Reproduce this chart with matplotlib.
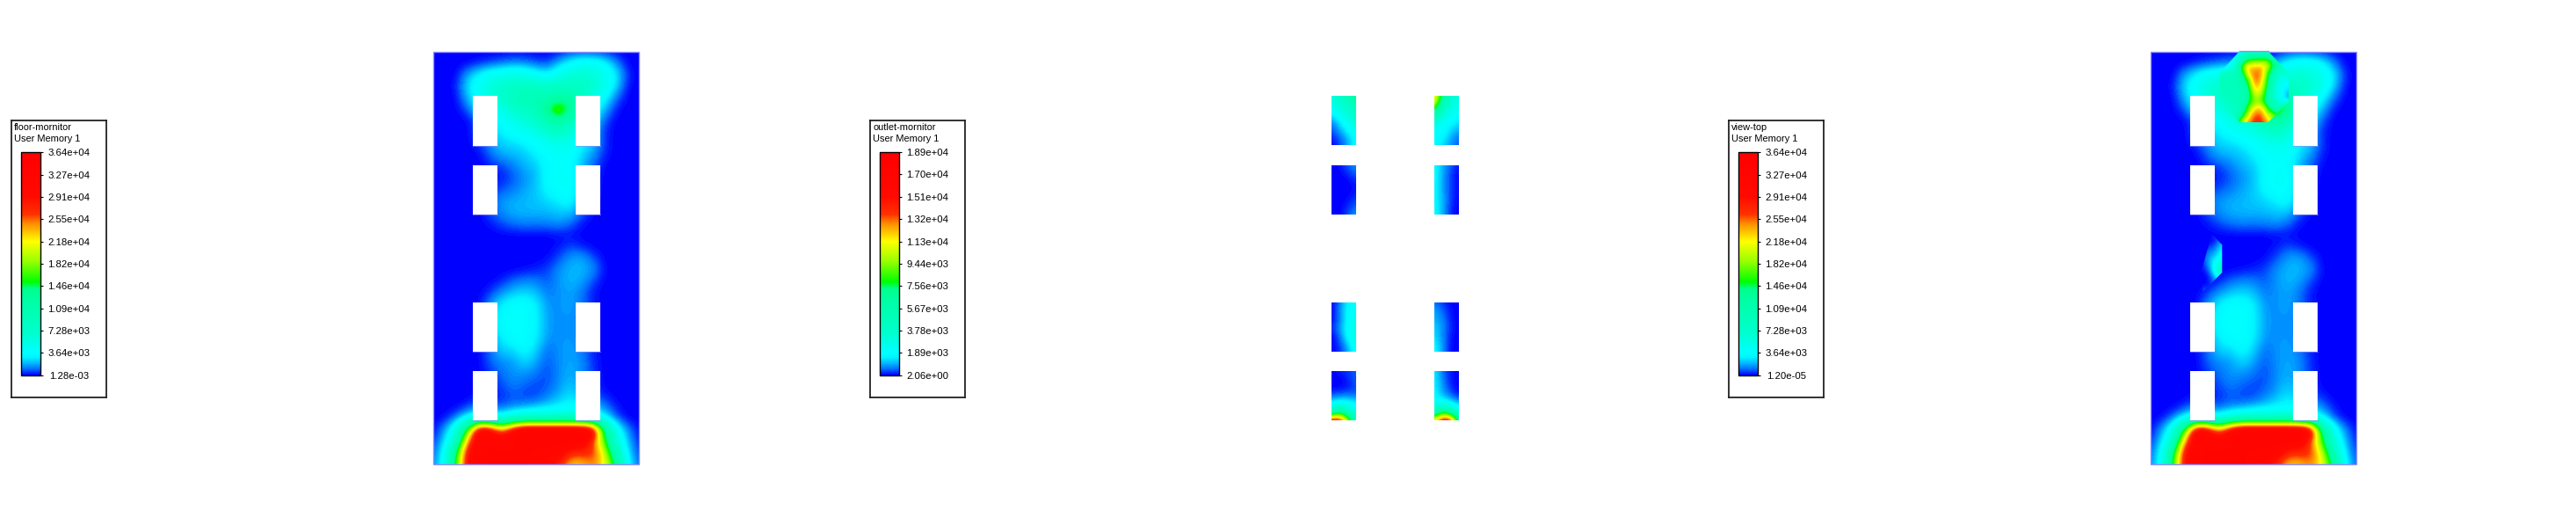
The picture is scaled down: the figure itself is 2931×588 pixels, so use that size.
import matplotlib
matplotlib.use('Agg')
import matplotlib.pyplot as plt
import numpy as np
from matplotlib.colors import LinearSegmentedColormap, Normalize
from matplotlib.cm import ScalarMappable
from matplotlib.patches import Rectangle, Polygon

plt.rcParams['font.family'] = ['Liberation Sans', 'DejaVu Sans']

# legend texts and ticks
floor_ticks = [1.28e-03, 3.64e+03, 7.28e+03, 1.09e+04, 1.46e+04, 1.82e+04, 2.18e+04, 2.55e+04, 2.91e+04, 3.27e+04, 3.64e+04]
outlet_ticks = [2.06e+00, 1.89e+03, 3.78e+03, 5.67e+03, 7.56e+03, 9.44e+03, 1.13e+04, 1.32e+04, 1.51e+04, 1.70e+04, 1.89e+04]
top_ticks = [1.20e-05, 3.64e+03, 7.28e+03, 1.09e+04, 1.46e+04, 1.82e+04, 2.18e+04, 2.55e+04, 2.91e+04, 3.27e+04, 3.64e+04]

# floor plane, values in 1e3
floor_field = [
    [0,0,0,0,0,0,0,0,0,0,0,0,.4,.5,.4,.2,0,0,0],
    [0,0,0,0,.3,.6,1,1.4,1.3,.8,.6,2,3.5,4.5,4.5,3.5,1.5,0,0],
    [0,0,0,1.8,3.2,4.5,5,5.5,5,4,3,5,6,6.5,6,5,3,.4,0],
    [0,0,.2,2.6,4.5,6,7,7.5,8,8,7.5,8,8,8,7,5,2.5,.1,0],
    [0,0,0,2,4,6,7,9,10,10,10,12,12,8,5,3.5,1,0,0],
    [0,0,0,.8,3,4,5,7,8,9,15,19,14,7,4,2,.2,0,0],
    [0,0,0,0,1,3,4,5,6,7,10,13,9,6,3,.8,0,0,0],
    [0,0,0,0,1,2,3,3.8,4.5,5,6.5,7.5,6,4,2,.4,0,0,0],
    [0,0,0,0,.5,1.5,2.5,2.5,3,3.7,4.5,5,5,3,2.5,.4,0,0,0],
    [0,0,0,0,0,1,1.8,2,2.2,3,3.7,4,3.8,2.5,1.5,.3,0,0,0],
    [0,0,0,0,0,.3,.6,1.2,2,2.2,3.5,3.8,3.8,2,1,0,0,0,0],
    [0,0,0,0,0,.1,.3,.8,1.5,2,3.6,4,4,2,.5,0,0,0,0],
    [0,0,0,0,0,.3,.8,1.2,1.8,2.2,3.3,3.9,3.9,2,.5,0,0,0,0],
    [0,0,0,0,0,1,1.6,1.9,2,2.2,2.5,3,3.5,1.8,.3,0,0,0,0],
    [0,0,0,0,0,.8,1.5,1.9,2,2,2,2.2,2.3,.9,.1,0,0,0,0],
    [0,0,0,0,0,.2,.7,1.1,1.3,1.2,1.3,1.5,1,.2,0,0,0,0,0],
    [0,0,0,0,0,0,0,0,0,0,0,.1,.1,0,0,0,0,0,0],
    [0,0,0,0,0,0,0,0,0,0,0,.2,.7,.3,0,0,0,0,0],
    [0,0,0,0,0,0,0,0,0,0,.1,.7,1.7,1.9,.8,0,0,0,0],
    [0,0,0,0,0,0,0,0,.1,.3,.6,1.5,2,2,1.6,.1,0,0,0],
    [0,0,0,0,0,0,.3,1,1.4,1.3,.8,1.6,2,1.8,.7,0,0,0,0],
    [0,0,0,0,0,.5,1.5,2.2,2.5,2.1,1.2,1.5,1.8,1.2,.2,0,0,0,0],
    [0,0,0,0,0,1.5,3,3.7,3.8,3,1.5,1.5,1.8,1.2,.3,0,0,0,0],
    [0,0,0,0,0,2,3.6,3.8,3.8,3.2,1.6,1.5,1.6,1.2,.3,0,0,0,0],
    [0,0,0,0,0,2,3.6,3.8,3.8,3.2,1.6,1.5,1.6,1.2,.3,0,0,0,0],
    [0,0,0,0,0,1.5,3,3.6,3.8,3,1.5,1.5,1.6,1.2,.3,0,0,0,0],
    [0,0,0,0,0,1,2.5,2.5,3.5,2.4,1,1.5,1.8,1.3,.3,0,0,0,0],
    [0,0,0,0,0,1,1.5,1.6,2.6,1.8,.8,1.5,1.8,1.5,.4,0,0,0,0],
    [0,0,0,0,0,.5,1.1,1.6,1.6,1.2,.6,1.5,1.9,1.5,.5,0,0,0,0],
    [0,0,0,0,0,.3,.8,1.3,1,.7,.8,1.5,2.2,1.6,.6,0,0,0,0],
    [0,0,0,0,.2,.3,.4,.9,.6,.6,1.2,1.9,2.8,2,.8,.3,0,0,0],
    [0,0,0,.5,1.2,.8,.9,1.2,1.5,2,2.5,3,3.5,3,2.2,1.4,.2,0,0],
    [0,.1,1.2,3.2,5,4.5,3.8,6,7,7,7,7,7,6,5,3.2,.9,0,0],
    [0,1.6,5,16,34,32,24,32,36,36,36,36,36,36,34,13,4.5,1.4,.1],
    [.4,2.4,7,25,32,32,32,32,32,32,32,32,32,32,26,16,6,2,.3],
    [1,3.2,14,30,32,32,32,32,32,32,32,32,27,27,27,21,9,2.6,.6],
    [1.3,3.6,16,30,32,32,32,32,32,32,30,27,23,23,25,22,14,3.2,1],
]

# octagon cut seen only in the top view
octagon_field = [
    [0,.5,4,6,7,7,7,7,6,5,4],
    [0,2,3.6,5,14,15,15,16,10,8,6],
    [1,2.5,5,15,24,22,24,20,14,10,7],
    [8,8,8,11,22,26,25,16,8,6,7],
    [9,9,9,10,15,26,24,14,7,4,5],
    [9,9,9,10,12,24,22,13,6,3.6,3],
    [8,9,9,9,11,21,20,11,6,3.6,1.5],
    [6,8,9,9,13,18,17,11,7,4,1.5],
    [5,7,8,9,16,22,24,15,10,10,20],
    [5,6,7,11,20,26,26,20,18,14,8],
    [5,6,8,20,24,27,27,24,18,10,8],
]

sliver_field = [
    [0,0,.5,1],
    [0,0,0,1.5],
    [0,.6,1,3],
    [0,1.5,2,3.6],
    [0,1.5,3.5,6],
    [0,.6,3.6,12],
    [0,0,1.5,4],
    [0,0,1,2],
    [1,1,1,1],
]

# outlet patches, left/right column from top to bottom
outlet_l1 = [[3,3.6,5,8],[2.6,3.6,4,5],[1.8,2.6,3.6,4],[.8,1.5,2.6,3.6],[.4,1,1.9,2.6],[.2,.5,1.1,1.9],[0,.3,.9,1.9]]
outlet_r1 = [[12.5,6.8,3.6,3],[11.4,5.2,3,2.6],[6.8,3.6,2.6,1.9],[3.6,2.3,1.9,1.5],[2.3,1.9,1.4,1],[1.9,1.8,1,.6],[1.9,1.3,.8,.4]]
outlet_l2 = [[0,.1,.5,.8],[0,0,.2,.5],[0,0,0,.2],[0,0,0,.1],[0,0,.05,.3],[0,0,.2,.5],[0,0,.4,.9]]
outlet_r2 = [[1.9,1,.5,.1],[1.9,.9,.3,0],[1.9,.9,.3,0],[1.8,.9,.3,0],[1.8,1,.3,0],[1.9,1,.2,0],[1.9,1,.2,0]]
outlet_l3 = [[0,.5,1.7,1.9],[0,.7,1.8,2.3],[0,.5,1.8,2.6],[.2,.8,1.9,2.8],[0,.5,1.9,2.8],[0,.3,1.2,2.6],[0,.2,.8,2.1]]
outlet_r3 = [[.5,.3,0,0],[1,.5,.1,0],[1,.7,.1,0],[1.3,.8,.2,0],[1.4,.7,.1,0],[1.7,.8,.05,0],[1.9,.8,.05,0]]
outlet_l4 = [[0,.2,.3,.5],[0,0,.2,.5],[0,0,.1,.4],[.4,.5,.6,.5],[1.6,2.1,1.9,1.6],[4,7.3,4,2.6],[15.6,15.6,10.4,4.7]]
outlet_r4 = [[1.6,.5,.1,0],[1.6,.7,.1,0],[1.7,.8,.2,0],[1.8,1,.5,.1],[2.1,2.3,1.6,1],[4,7.8,5.2,2.6],[11.4,15.6,15.6,6.2]]

# colours of the legend bar, position as fraction of the range
cmap_stops = [(0, '#0000ff'), (.027, '#006eff'), (.055, '#00beff'), (.08, '#00f5ff'), (.1, '#00ffff'),
              (.19, '#00ffcd'), (.33, '#00ffa5'), (.385, '#00ff8c'), (.42, '#00ff00'), (.51, '#96ff00'),
              (.6, '#ffff00'), (.68, '#ff8c00'), (.72, '#ff3200'), (.8, '#ff0a00'), (1, '#ff0000')]
fluent = LinearSegmentedColormap.from_list('fluent', cmap_stops, N=256)

fig = plt.figure(figsize=(29.31, 5.88), dpi=100)
ax = fig.add_axes([0, 0, 1, 1])

W, H = 2931, 588
edge = '#8c8cff'
top_y, bot_y = 59, 528
hole_y = [(109.3, 165.5), (187.7, 243.7), (344, 400), (422, 478.2)]


def field(grid, x0, x1, y0, y1, vmax, clip=None):
    g = np.array(grid, dtype=float)
    dx = (x1 - x0) / (g.shape[1] - 1)
    dy = (y1 - y0) / (g.shape[0] - 1)
    im = ax.imshow(g, cmap=fluent, vmin=0, vmax=vmax, aspect='auto', interpolation='bicubic',
                   interpolation_stage='data',
                   extent=(x0 - dx / 2, x1 + dx / 2, y1 + dy / 2, y0 - dy / 2), zorder=2)
    if clip is None:
        im.set_clip_path(Rectangle((x0, y0), x1 - x0, y1 - y0, transform=ax.transData))
    else:
        im.set_clip_path(Polygon(clip, closed=True, transform=ax.transData))
    return im


def full_panel(x0):
    field(floor_field, x0, x0 + 234, top_y, bot_y, 36.4)
    ax.add_patch(Rectangle((x0, top_y), 234, bot_y - top_y, fill=False, ec=edge, lw=1, zorder=4))
    for hx in (x0 + 44.7, x0 + 161.7):
        for y0, y1 in hole_y:
            ax.add_patch(Rectangle((hx, y0), 28, y1 - y0, fc='white', ec='none', zorder=3))
            ax.plot([hx, hx + 28], [y1, y1], color=edge, lw=.8, alpha=.6, zorder=3)


def legend(x0, title, ticks):
    box = fig.add_axes([x0 / W, 1 - 451.7 / H, 107.4 / W, 315 / H])
    box.set_xticks([])
    box.set_yticks([])
    for s in box.spines.values():
        s.set_linewidth(1.3)
        s.set_color('#222222')
    box.text(3 / 107.4, 1 - 8 / 315, title, fontsize=7.9, va='center', ha='left', transform=box.transAxes)
    box.text(3 / 107.4, 1 - 21.5 / 315, 'User Memory 1', fontsize=7.9, va='center', ha='left', transform=box.transAxes)
    cax = fig.add_axes([(x0 + 11) / W, 1 - 426.7 / H, 21.3 / W, 254 / H])
    sm = ScalarMappable(norm=Normalize(ticks[0], ticks[-1]), cmap=fluent)
    cb = fig.colorbar(sm, cax=cax)
    cb.set_ticks(ticks)
    cb.set_ticklabels(['%.2e' % t for t in ticks])
    cb.outline.set_linewidth(1)
    cb.ax.tick_params(length=2.5, width=.8, pad=21, labelsize=8.2)
    for lab in cb.ax.get_yticklabels():
        lab.set_ha('center')


full_panel(493.3)
full_panel(2447.3)

# top view extras
ox, oy = 2447.3, 59
octagon = [(ox + 101, oy - 1), (ox + 133.3, oy - 1), (ox + 156.7, oy + 24), (ox + 156.7, oy + 57.3),
           (ox + 133.3, oy + 80), (ox + 101, oy + 80), (ox + 78.7, oy + 59), (ox + 78.7, oy + 23.3)]
im = field(octagon_field, ox + 78.7, ox + 156.7, oy, oy + 80, 36.4, clip=octagon)
im.set_zorder(5)
ax.plot([ox + 101, ox + 133.3], [oy - 1.5, oy - 1.5], color=edge, lw=1, zorder=6)
sliver = [(ox + 69.4, oy + 207), (ox + 81, oy + 219.3), (ox + 81, oy + 251), (ox + 59.4, oy + 272.7), (ox + 57, oy + 250)]
im = field(sliver_field, ox + 57, ox + 81, oy + 207, oy + 273, 36.4, clip=sliver)
im.set_zorder(5)

# outlet view
outlet_cols = [(1515, [outlet_l1, outlet_l2, outlet_l3, outlet_l4]), (1632, [outlet_r1, outlet_r2, outlet_r3, outlet_r4])]
for hx, grids in outlet_cols:
    for (y0, y1), g in zip(hole_y, grids):
        field(g, hx, hx + 28, y0, y1, 18.9)

legend(13.3, 'floor-mornitor', floor_ticks)
legend(990.3, 'outlet-mornitor', outlet_ticks)
legend(1967.3, 'view-top', top_ticks)

ax.set_xlim(0, W)
ax.set_ylim(H, 0)
ax.axis('off')

fig.savefig('out.png', dpi=100)
